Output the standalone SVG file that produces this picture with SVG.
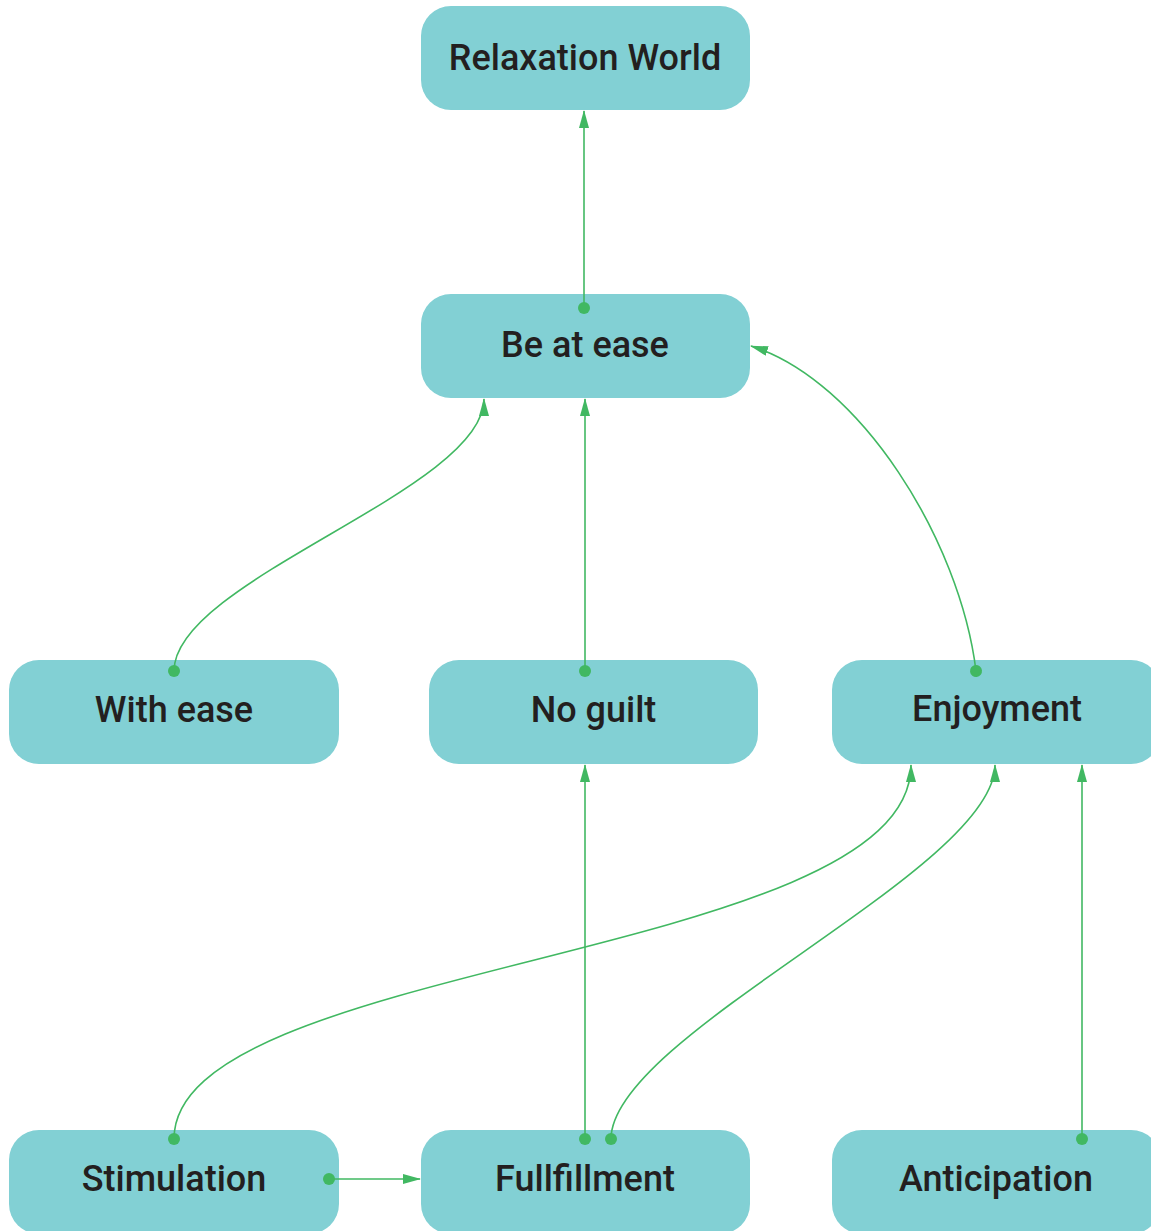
<svg xmlns="http://www.w3.org/2000/svg" width="1151" height="1231" viewBox="0 0 1151 1231">
  <style>
    .node rect { fill: #82d0d4; }
    .node text { font-family: Roboto, "Liberation Sans", sans-serif; font-weight: 500; font-size: 36px; fill: #231f20; text-anchor: middle; }
    .edge { fill: none; stroke: #41b862; stroke-width: 1.6; marker-end: url(#arrow); marker-start: url(#dot); }
  </style>
  <defs>
    <marker id="arrow" viewBox="0 0 18 10" refX="17" refY="5" markerWidth="18" markerHeight="10" markerUnits="userSpaceOnUse" orient="auto">
      <path d="M0,0 L18,5 L0,10 Z" fill="#41b862"/>
    </marker>
    <marker id="dot" viewBox="0 0 12 12" refX="6" refY="6" markerWidth="12" markerHeight="12" markerUnits="userSpaceOnUse" orient="auto">
      <circle cx="6" cy="6" r="6" fill="#41b862"/>
    </marker>
  </defs>
  <rect width="1151" height="1231" fill="#ffffff"/>

  <g id="node-relaxation-world" class="node">
    <rect x="421" y="6" width="329" height="104" rx="30"/>
    <text x="585" y="70">Relaxation World</text>
  </g>
  <g id="node-be-at-ease" class="node">
    <rect x="421" y="294" width="329" height="104" rx="30"/>
    <text x="585" y="357">Be at ease</text>
  </g>
  <g id="node-with-ease" class="node">
    <rect x="9" y="660" width="330" height="104" rx="30"/>
    <text x="174" y="722">With ease</text>
  </g>
  <g id="node-no-guilt" class="node">
    <rect x="429" y="660" width="329" height="104" rx="30"/>
    <text x="593.5" y="722">No guilt</text>
  </g>
  <g id="node-enjoyment" class="node">
    <rect x="832" y="660" width="329" height="104" rx="30"/>
    <text x="997" y="721">Enjoyment</text>
  </g>
  <g id="node-stimulation" class="node">
    <rect x="9" y="1130" width="330" height="104" rx="30"/>
    <text x="174" y="1191">Stimulation</text>
  </g>
  <g id="node-fullfillment" class="node">
    <rect x="421" y="1130" width="329" height="104" rx="30"/>
    <text x="585" y="1191">Fullfillment</text>
  </g>
  <g id="node-anticipation" class="node">
    <rect x="832" y="1130" width="329" height="104" rx="30"/>
    <text x="996" y="1191">Anticipation</text>
  </g>

  <g id="connectors">
    <path class="edge" d="M584,308 L584,111"/>
    <path class="edge" d="M174,671 C174,580 484,490 484,399"/>
    <path class="edge" d="M585,671 L585,399"/>
    <path class="edge" d="M976,671 C960,540 860,380 751,346"/>
    <path class="edge" d="M174,1139 C174,960 911,960 911,765"/>
    <path class="edge" d="M611,1139 C611,1035 995,870 995,765"/>
    <path class="edge" d="M585,1139 L585,765"/>
    <path class="edge" d="M1082,1139 L1082,765"/>
    <path class="edge" d="M329,1179 L420,1179"/>
  </g>
</svg>
